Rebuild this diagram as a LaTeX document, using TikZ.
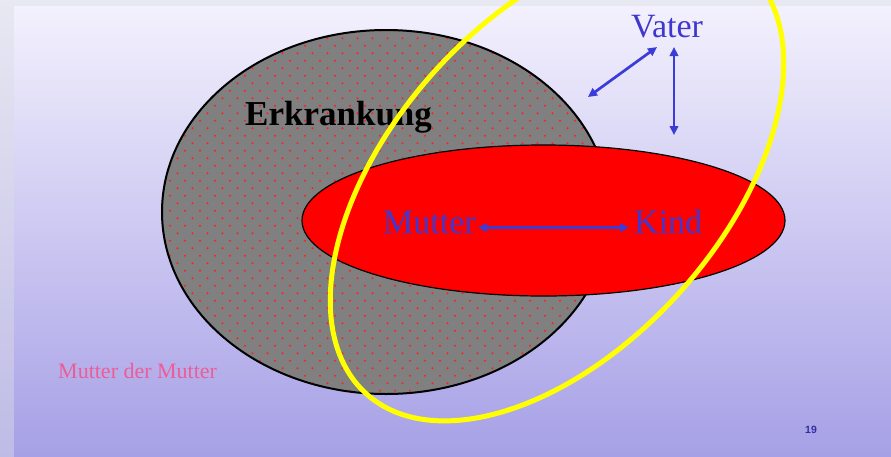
\documentclass[tikz,border=0pt]{standalone}
\usepackage{fontspec}
\setmainfont{Liberation Serif}
\newfontfamily\numfont{Liberation Sans}
\usetikzlibrary{arrows.meta}
\definecolor{bgtop}{HTML}{F3F1FD}
\definecolor{bgbot}{HTML}{A6A0E6}
\definecolor{striptop}{HTML}{E8E8F2}
\definecolor{stripbot}{HTML}{BEBBE6}
\definecolor{arrowblue}{HTML}{3B3BD8}
\definecolor{textblue}{HTML}{4038CC}
\definecolor{pinktext}{HTML}{EE5C98}
\definecolor{dotred}{HTML}{FF2020}
\definecolor{ellgray}{HTML}{808080}
\definecolor{yel}{HTML}{FFFF00}
\tikzset{
  arr/.style={{Triangle[length=9pt,width=8.5pt]}-{Triangle[length=9pt,width=8.5pt]}, line width=2.7pt, draw=arrowblue},
  bigtext/.style={font=\fontsize{34}{40}\selectfont, inner sep=0pt, anchor=base west},
}
\begin{document}
\begin{tikzpicture}[x=1pt,y=-1pt]
\useasboundingbox (0,0) rectangle (891,456);
% background
\fill[striptop] (0,0) rectangle (891,6);
\shade[top color=striptop, bottom color=stripbot] (0,0) rectangle (14,456);
\shade[top color=bgtop, bottom color=bgbot] (14,6) rectangle (891,456);
% gray dotted ellipse
\begin{scope}
\clip (386,212) ellipse [x radius=224, y radius=182];
\fill[ellgray] (150,20) rectangle (630,400);
\foreach \n in {-18,...,31}{
  \pgfmathsetmacro\yy{165.7+7.5*\n}
  \pgfmathsetmacro\xo{185+7.5*mod(abs(\n),2)-30}
  \foreach \k in {0,...,32}{
    \fill[dotred] (\xo+15*\k,\yy) circle (1.1pt);
  }
}
\end{scope}
\draw[line width=2pt] (386,212) ellipse [x radius=224, y radius=182];
% red ellipse
\draw[fill=red, line width=1.2pt] (543.5,220.5) ellipse [x radius=241.5, y radius=75.5];
% texts
\node[font=\bfseries\fontsize{35}{40}\selectfont, inner sep=0pt, anchor=base west] (erk) at (245,125) {Erkrankung};
\node[bigtext, textblue] (mutter) at (383,233) {Mutter};
\node[bigtext, textblue] (kind) at (634,233) {Kind};
\node[bigtext, textblue] (vater) at (631,37) {Vater};
\node[font=\fontsize{22}{26}\selectfont, inner sep=0pt, anchor=base west, pinktext] (mdm) at (58,378) {Mutter der Mutter};
\node[font=\numfont\bfseries\fontsize{10.5}{12}\selectfont, inner sep=0pt, text=textblue!80!black] (page) at (811,429.5) {19};
% yellow ellipse
\draw[yel, line width=5pt, rotate around={48:(557,182)}] (557,182) ellipse [x radius=285, y radius=165];
% arrows
\coordinate (vdiag) at (588,97);
\coordinate (vdown) at (674,135);
\draw[arr] ([xshift=26pt,yshift=-10pt]vater.base west) -- (vdiag);
\draw[arr] ([xshift=43pt,yshift=-10pt]vater.base west) -- (vdown);
\draw[arr] ([xshift=2pt,yshift=5.5pt]mutter.base east) -- ([xshift=-5pt,yshift=5.5pt]kind.base west);
\end{tikzpicture}
\end{document}
